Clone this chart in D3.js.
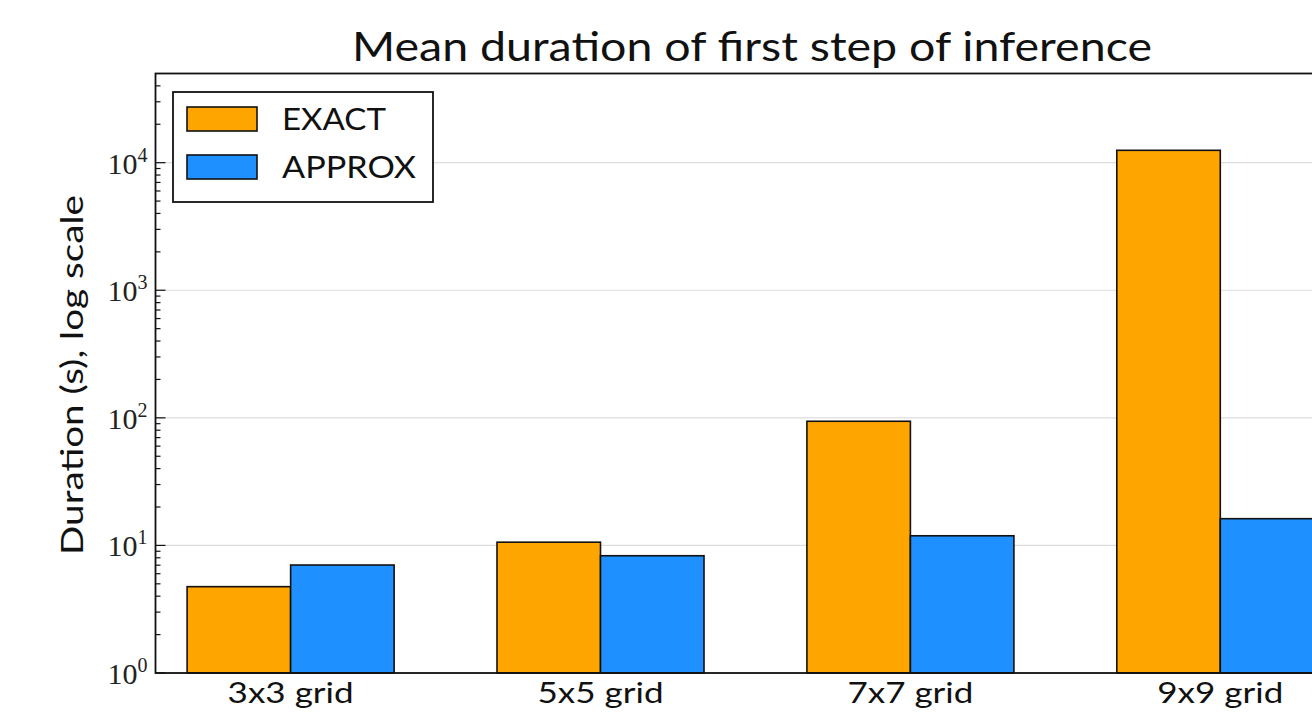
<!DOCTYPE html>
<html><head><meta charset="utf-8">
<script src="https://cdn.jsdelivr.net/npm/d3@7"></script>
<style>body{margin:0;background:#fff;overflow:hidden}</style>
</head><body>
<svg id="c" width="1312" height="721"></svg>
<script>
const categories = ["3x3 grid", "5x5 grid", "7x7 grid", "9x9 grid"];
const seriesNames = ["EXACT", "APPROX"];
const exactValues = [4.75, 10.6, 94, 12500];
const approxValues = [7.02, 8.3, 11.9, 16.2];
const colors = ["#FFA500", "#1E90FF"];
const yTickValues = [1, 10, 100, 1000, 10000];
const yTickExps = ["0", "1", "2", "3", "4"];
const title = "Mean duration of first step of inference";
const yLabel = "Duration (s), log scale";

const svg = d3.select("#c");
const L = 155.5, T = 73.5, B = 673, R = 1355.4;
const x = d3.scaleLinear().domain([-0.436, 3.436]).range([L, R]);
const y = d3.scaleLog().domain([1, 50000]).range([B, T]);
const w = 0.334;
const font = "Lato, 'Open Sans', sans-serif";
const fw = 400;

// grid
svg.append("g").selectAll("line").data(yTickValues).join("line")
  .attr("x1", L).attr("x2", R).attr("y1", d => y(d)).attr("y2", d => y(d))
  .attr("stroke", "#dddddd").attr("stroke-width", 1.2);

// bars
const series = [exactValues, approxValues];
series.forEach((vals, s) => {
  svg.append("g").selectAll("rect").data(vals).join("rect")
    .attr("x", (d, i) => x(i + (s - 1) * w))
    .attr("width", x(w) - x(0))
    .attr("y", d => y(d))
    .attr("height", d => B - y(d))
    .attr("fill", colors[s]).attr("stroke", "#111").attr("stroke-width", 1.6);
});

// minor/major ticks on y
const minors = [];
for (let e = 0; e < 5; e++) for (let k = 2; k <= 9; k++) { const v = k * Math.pow(10, e); if (v < 50000) minors.push(v); }
svg.append("g").selectAll("line").data(minors).join("line")
  .attr("x1", L).attr("x2", L + 5).attr("y1", d => y(d)).attr("y2", d => y(d))
  .attr("stroke", "#111").attr("stroke-width", 1.2);
svg.append("g").selectAll("line").data(yTickValues).join("line")
  .attr("x1", L).attr("x2", L + 10).attr("y1", d => y(d)).attr("y2", d => y(d))
  .attr("stroke", "#111").attr("stroke-width", 1.2);

// frame
svg.append("rect").attr("x", L).attr("y", T).attr("width", R - L).attr("height", B - T)
  .attr("fill", "none").attr("stroke", "#111").attr("stroke-width", 1.8);

// y tick labels
const yl = svg.append("g").selectAll("text").data(yTickValues).join("text")
  .attr("x", L - 8).attr("y", d => y(d) + 11)
  .attr("text-anchor", "end")
  .attr("font-family", "'Liberation Serif', 'Times New Roman', serif").attr("font-size", 30).attr("fill", "#222");
yl.append("tspan").text("10");
yl.append("tspan").attr("dy", -12).attr("font-size", 20).text((d, i) => yTickExps[i]);

// x tick labels
svg.append("g").selectAll("text").data(categories).join("text")
  .attr("x", (d, i) => x(i)).attr("y", B + 30)
  .attr("text-anchor", "middle").attr("font-family", font).attr("font-weight", fw).attr("font-size", 28).attr("fill", "#111")
  .attr("textLength", 126).attr("lengthAdjust", "spacingAndGlyphs")
  .text(d => d);

// title
svg.append("text").attr("x", 752).attr("y", 61).attr("text-anchor", "middle")
  .attr("font-family", font).attr("font-weight", fw).attr("font-size", 41).attr("fill", "#111")
  .attr("textLength", 800).attr("lengthAdjust", "spacingAndGlyphs").text(title);

// y label
svg.append("text").attr("transform", `translate(83,375) rotate(-90)`)
  .attr("text-anchor", "middle").attr("font-family", font).attr("font-weight", fw).attr("font-size", 30).attr("fill", "#111")
  .attr("textLength", 360).attr("lengthAdjust", "spacingAndGlyphs")
  .text(yLabel);

// legend
const lg = svg.append("g");
lg.append("rect").attr("x", 173).attr("y", 92).attr("width", 260).attr("height", 110)
  .attr("fill", "#fff").attr("stroke", "#111").attr("stroke-width", 1.8);
const legendLens = [104, 134];
seriesNames.forEach((n, i) => {
  lg.append("rect").attr("x", 187).attr("y", 107 + i * 48).attr("width", 70).attr("height", 24)
    .attr("fill", colors[i]).attr("stroke", "#111").attr("stroke-width", 1.6);
  lg.append("text").attr("x", 282).attr("y", 130 + i * 48).attr("font-family", font).attr("font-weight", fw)
    .attr("font-size", 30).attr("fill", "#111")
    .attr("textLength", legendLens[i]).attr("lengthAdjust", "spacingAndGlyphs").text(n);
});
</script>
</body></html>
